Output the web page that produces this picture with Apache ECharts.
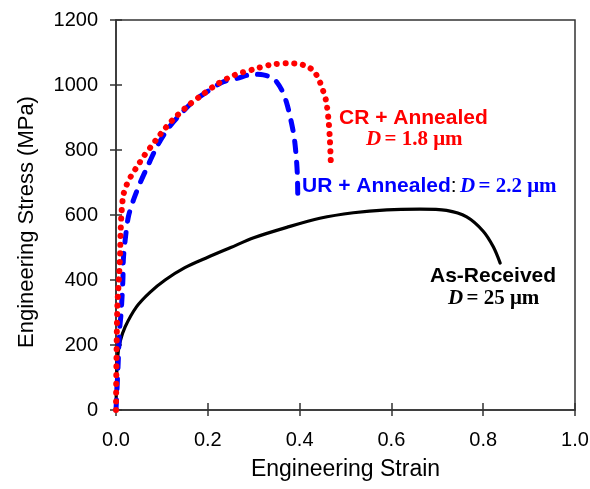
<!DOCTYPE html>
<html>
<head>
<meta charset="utf-8">
<script src="https://cdn.jsdelivr.net/npm/echarts@6/dist/echarts.min.js"></script>
<style>
  html, body { margin: 0; padding: 0; background: #fff; }
  #main { width: 590px; height: 489px; }
</style>
</head>
<body>
<div id="main"></div>
<script>
// As-Received, D = 25 um
var asReceivedStrain = [0, 0.003, 0.009, 0.02, 0.045, 0.074, 0.107, 0.15, 0.2, 0.25, 0.3, 0.372, 0.444, 0.517, 0.59, 0.662, 0.72, 0.764, 0.80, 0.822, 0.837];
var asReceivedStress = [0, 154, 210, 256, 318, 362, 400, 438, 470, 500, 530, 562, 590, 607, 616, 618, 614, 594, 550, 502, 452];

// CR + Annealed, D = 1.8 um
var crStrain = [0, 0.001, 0.003, 0.007, 0.009, 0.010, 0.012, 0.016, 0.023, 0.034, 0.047, 0.06, 0.076, 0.091, 0.105, 0.121, 0.154, 0.187, 0.223, 0.259, 0.299, 0.336, 0.375, 0.397, 0.415, 0.432, 0.444, 0.452, 0.458, 0.463, 0.466, 0.468];
var crStress = [0, 150, 318, 421, 483, 544, 606, 661, 692, 723, 751, 780, 810, 838, 863, 889, 933, 969, 1005, 1031, 1048, 1062, 1067, 1065, 1058, 1041, 1010, 979, 949, 892, 831, 763];

// UR + Annealed, D = 2.2 um
var urStrain = [0, 0.004, 0.008, 0.011, 0.015, 0.016, 0.02, 0.027, 0.038, 0.052, 0.067, 0.089, 0.114, 0.139, 0.168, 0.198, 0.234, 0.263, 0.299, 0.321, 0.343, 0.361, 0.372, 0.381, 0.388, 0.392, 0.395, 0.396];
var urStress = [0, 120, 250, 297, 400, 462, 523, 595, 646, 697, 744, 810, 867, 908, 949, 979, 1010, 1020, 1033, 1031, 1020, 985, 944, 892, 841, 790, 728, 662];

var xTicks = [0, 0.2, 0.4, 0.6, 0.8, 1.0];
var yTicks = [0, 200, 400, 600, 800, 1000, 1200];

function pairs(xs, ys) {
    var out = [];
    for (var i = 0; i < xs.length; i++) out.push([xs[i], ys[i]]);
    return out;
}

var sans = 'Liberation Sans, Arial, sans-serif';
var serif = 'Liberation Serif, Times New Roman, serif';
var axisColor = '#333';

var myChart = echarts.init(document.getElementById('main'));

var option = {
    backgroundColor: '#fff',
    animation: false,
    grid: {
        left: 116, right: 15, top: 20, bottom: 79,
        containLabel: false,
        outerBoundsMode: 'none',
        show: true,
        borderColor: axisColor,
        borderWidth: 1.5
    },
    xAxis: [{
        type: 'value',
        min: xTicks[0], max: xTicks[xTicks.length - 1], interval: 0.2,
        position: 'bottom',
        name: 'Engineering Strain',
        nameLocation: 'middle',
        nameGap: 48,
        nameTextStyle: { fontFamily: sans, fontSize: 23, color: '#000' },
        axisLine: { onZero: false, lineStyle: { color: axisColor, width: 1.5 } },
        axisTick: { inside: false, length: 6, lineStyle: { color: axisColor, width: 1.5 } },
        axisLabel: {
            margin: 20, fontFamily: sans, fontSize: 20, color: '#000',
            formatter: function (v) { return v.toFixed(1); }
        },
        splitLine: { show: false }
    }, {
        type: 'value',
        min: xTicks[0], max: xTicks[xTicks.length - 1], interval: 0.2,
        position: 'bottom',
        axisLine: { show: false, onZero: false },
        axisTick: { inside: true, length: 7, lineStyle: { color: axisColor, width: 1.5 } },
        axisLabel: { show: false },
        splitLine: { show: false }
    }],
    yAxis: [{
        type: 'value',
        min: yTicks[0], max: yTicks[yTicks.length - 1], interval: 200,
        position: 'left',
        name: 'Engineering Stress (MPa)',
        nameLocation: 'middle',
        nameRotate: 90,
        nameGap: 78,
        nameTextStyle: { fontFamily: sans, fontSize: 22, color: '#000', padding: [0, 14, 0, 0] },
        axisLine: { onZero: false, lineStyle: { color: axisColor, width: 1.5 } },
        axisTick: { inside: false, length: 6, lineStyle: { color: axisColor, width: 1.5 } },
        axisLabel: {
            margin: 18, fontFamily: sans, fontSize: 20, color: '#000',
            formatter: function (v) { return String(v); }
        },
        splitLine: { show: false }
    }, {
        type: 'value',
        min: yTicks[0], max: yTicks[yTicks.length - 1], interval: 200,
        position: 'left',
        axisLine: { show: false, onZero: false },
        axisTick: { inside: true, length: 6, lineStyle: { color: axisColor, width: 1.5 } },
        axisLabel: { show: false },
        splitLine: { show: false }
    }],
    series: [{
        name: 'As-Received',
        type: 'line',
        smooth: 0.3,
        showSymbol: false,
        z: 3,
        lineStyle: { color: '#000', width: 3.2, cap: 'round' },
        data: pairs(asReceivedStrain, asReceivedStress)
    }, {
        name: 'UR + Annealed',
        type: 'line',
        smooth: 0.3,
        showSymbol: false,
        z: 4,
        lineStyle: { color: '#0000ff', width: 5, type: [10, 11], cap: 'round' },
        data: pairs(urStrain, urStress)
    }, {
        name: 'CR + Annealed',
        type: 'line',
        smooth: 0.3,
        showSymbol: false,
        z: 5,
        lineStyle: { color: '#ff0000', width: 6, type: [0.1, 8.6], cap: 'round' },
        data: pairs(crStrain, crStress)
    }],
    graphic: [{
        type: 'text', left: 339, top: 108, z: 10,
        style: { text: 'CR + Annealed', fill: '#ff0000', font: 'bold 21px ' + sans }
    }, {
        type: 'text', left: 366, top: 129, z: 10,
        style: {
            text: '{i|D} {v|= 1.8 μm}',
            rich: {
                i: { fill: '#ff0000', font: 'italic bold 21px ' + serif },
                v: { fill: '#ff0000', font: 'bold 21px ' + serif }
            }
        }
    }, {
        type: 'text', left: 302, top: 176, z: 10,
        style: {
            text: '{a|UR + Annealed}{c|:} {i|D} {v|= 2.2 μm}',
            rich: {
                a: { fill: '#0000ff', font: 'bold 21px ' + sans },
                c: { fill: '#000', font: '21px ' + sans },
                i: { fill: '#0000ff', font: 'italic bold 21px ' + serif },
                v: { fill: '#0000ff', font: 'bold 21px ' + serif }
            }
        }
    }, {
        type: 'text', left: 430, top: 266, z: 10,
        style: { text: 'As-Received', fill: '#000', font: 'bold 21px ' + sans }
    }, {
        type: 'text', left: 448, top: 288, z: 10,
        style: {
            text: '{i|D} {v|= 25 μm}',
            rich: {
                i: { fill: '#000', font: 'italic bold 21px ' + serif },
                v: { fill: '#000', font: 'bold 21px ' + serif }
            }
        }
    }]
};

myChart.setOption(option);
</script>
</body>
</html>
